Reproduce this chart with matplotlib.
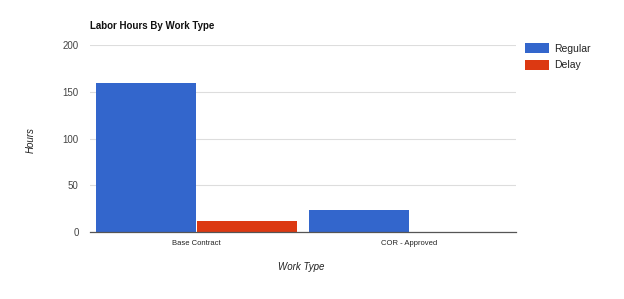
import matplotlib
matplotlib.use("Agg")
import matplotlib.pyplot as plt
import numpy as np

plt.rcParams['font.family'] = ['Liberation Sans', 'DejaVu Sans']

categories = ['Base Contract', 'COR - Approved']
regular = [160, 24]
delay = [12, 0]
series_names = ['Regular', 'Delay']
yticks = [0, 50, 100, 150, 200]

fig = plt.figure(figsize=(6.24, 2.99), dpi=100)
ax = fig.add_axes([0.144, 0.224, 0.683, 0.625])

x = np.arange(len(categories))
w = 0.468
ax.bar(x - w / 2 - 0.002, regular, width=w, color='#3366CC', label=series_names[0], zorder=2)
ax.bar(x + w / 2 + 0.002, delay, width=w, color='#DC3912', label=series_names[1], zorder=2)

ax.set_xlim(-0.5, 1.5)
ax.set_ylim(0, 200)
ax.set_yticks(yticks)
ax.set_yticklabels([str(v) for v in yticks], fontsize=7, color='#444444')
ax.set_xticks(x)
ax.set_xticklabels(categories, fontsize=5.5, color='#222222')
ax.tick_params(length=0, pad=6)
ax.tick_params(axis='y', pad=8)
ax.grid(axis='y', color='#dddddd', linewidth=0.8, zorder=0)
for s in ['top', 'right', 'left']:
    ax.spines[s].set_visible(False)
ax.spines['bottom'].set_color('#555555')
ax.spines['bottom'].set_linewidth(0.9)
ax.spines['bottom'].set_zorder(3)

fig.text(0.144, 0.913, 'Labor Hours By Work Type', fontsize=7, fontweight='bold',
         color='#111111', va='center', ha='left')
fig.text(0.05, 0.53, 'Hours', fontsize=7, style='italic', rotation=90,
         color='#222222', va='center', ha='center')
fig.text(0.483, 0.107, 'Work Type', fontsize=7, style='italic',
         color='#222222', va='center', ha='center')

ax.legend(loc='upper left', bbox_to_anchor=(0.998, 1.06), frameon=False,
          fontsize=7.5, handlelength=2.3, handleheight=1.1, handletextpad=0.5,
          labelspacing=0.55, labelcolor='#222222')

fig.savefig('out.png', dpi=100)
